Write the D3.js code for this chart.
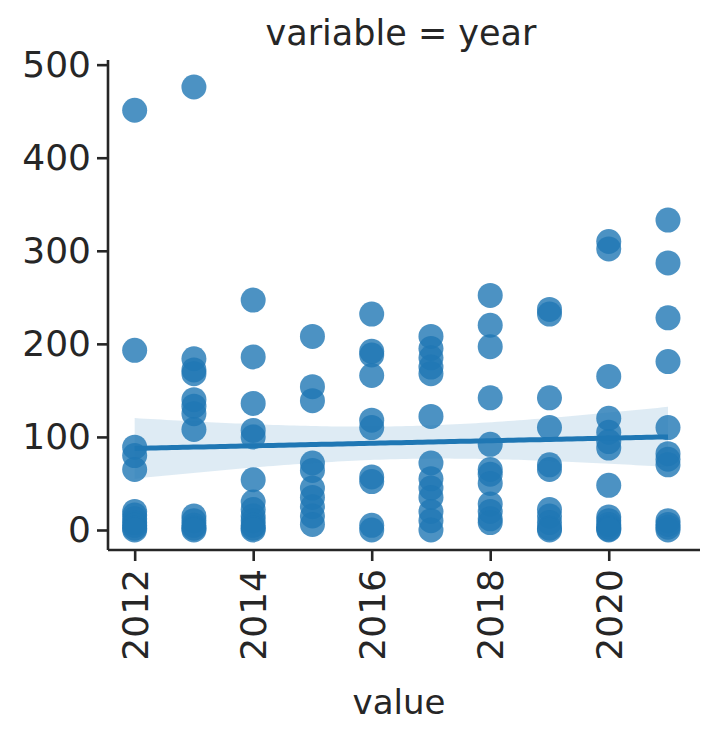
<!DOCTYPE html>
<html>
<head>
<script src="https://cdn.jsdelivr.net/npm/d3@7/dist/d3.min.js"></script>
<style>
  body { margin: 0; background: #fff; }
  text { font-family: "DejaVu Sans", sans-serif; fill: #262626; }
</style>
</head>
<body>
<div id="viz"></div>
<script>
// one column of points per year
var years = [2012, 2013, 2014, 2015, 2016, 2017, 2018, 2019, 2020, 2021];
var values = [
  [451, 193, 89, 80, 65, 20, 16, 12, 8, 5, 2, 0],
  [476, 184, 172, 168, 140, 133, 125, 108, 15, 10, 5, 2, 0],
  [247, 186, 136, 107, 100, 54, 30, 22, 15, 10, 5, 2, 0],
  [208, 154, 139, 72, 64, 45, 35, 25, 15, 6],
  [232, 192, 188, 166, 118, 110, 57, 52, 5, 0],
  [208, 195, 185, 175, 168, 122, 72, 55, 45, 35, 20, 10, 0],
  [252, 220, 197, 142, 92, 65, 60, 50, 28, 20, 12, 8],
  [237, 232, 142, 110, 70, 65, 22, 15, 8, 2, 0],
  [310, 302, 165, 120, 105, 95, 88, 48, 14, 10, 6, 3, 1, 0],
  [333, 287, 228, 181, 110, 82, 76, 70, 10, 6, 3, 0]
];
var yTicks = [0, 100, 200, 300, 400, 500];
var xTicks = [2012, 2014, 2016, 2018, 2020];

var W = 703, H = 729;
var blue = "#1f77b4";

var points = [];
years.forEach(function(yr, i) {
  values[i].forEach(function(v) { points.push({x: yr, y: v}); });
});

var x = d3.scaleLinear().domain([2011.55, 2021.54]).range([108, 700]);
var y = d3.scaleLinear().domain([-21.5, 505]).range([550, 60]);

var svg = d3.select("#viz").append("svg")
  .attr("width", W).attr("height", H);

// points
svg.append("g").selectAll("circle")
  .data(points)
  .enter().append("circle")
  .attr("cx", function(d) { return x(d.x); })
  .attr("cy", function(d) { return y(d.y); })
  .attr("r", 12.5)
  .attr("fill", blue)
  .attr("fill-opacity", 0.8);

// least squares fit + 95% band
var n = points.length;
var mx = d3.mean(points, function(d) { return d.x; });
var my = d3.mean(points, function(d) { return d.y; });
var sxx = d3.sum(points, function(d) { return (d.x - mx) * (d.x - mx); });
var sxy = d3.sum(points, function(d) { return (d.x - mx) * (d.y - my); });
var slope = sxy / sxx;
var icpt = my - slope * mx;
var sse = d3.sum(points, function(d) { var r = d.y - (icpt + slope * d.x); return r * r; });
var s = Math.sqrt(sse / (n - 2));
var tcrit = 1.984;

var grid = d3.range(0, 101).map(function(k) {
  var gx = 2012 + 9 * k / 100;
  var fit = icpt + slope * gx;
  var se = s * Math.sqrt(1 / n + (gx - mx) * (gx - mx) / sxx);
  return {x: gx, fit: fit, lo: fit - tcrit * se, hi: fit + tcrit * se};
});

svg.append("path")
  .datum(grid)
  .attr("d", d3.area()
    .x(function(d) { return x(d.x); })
    .y0(function(d) { return y(d.lo); })
    .y1(function(d) { return y(d.hi); }))
  .attr("fill", blue)
  .attr("fill-opacity", 0.15);

svg.append("path")
  .datum(grid)
  .attr("d", d3.line()
    .x(function(d) { return x(d.x); })
    .y(function(d) { return y(d.fit); }))
  .attr("fill", "none")
  .attr("stroke", blue)
  .attr("stroke-width", 5);

// axes
var yAxis = svg.append("g")
  .attr("transform", "translate(108,0)")
  .call(d3.axisLeft(y).tickValues(yTicks).tickSize(11).tickPadding(6));

var xAxis = svg.append("g")
  .attr("transform", "translate(0,550)")
  .call(d3.axisBottom(x).tickValues(xTicks).tickFormat(d3.format("d")).tickSize(11).tickPadding(7));

[yAxis, xAxis].forEach(function(g) {
  g.select(".domain").attr("stroke", "#262626").attr("stroke-width", 2.6);
  g.selectAll(".tick line").attr("stroke", "#262626").attr("stroke-width", 2.6);
  g.selectAll(".tick text").attr("font-size", 36).style("font-family", "DejaVu Sans").attr("fill", "#262626");
});

// spine ends are flat, as in matplotlib
yAxis.select(".domain").attr("d", "M0," + y.range()[0] + "V" + y.range()[1]);
xAxis.select(".domain").attr("d", "M" + x.range()[0] + ",0H" + x.range()[1]);

// rotated year labels
xAxis.selectAll(".tick text")
  .attr("transform", "rotate(-90)")
  .attr("text-anchor", "end")
  .attr("dy", "0.35em")
  .attr("x", -19)
  .attr("y", 0);

svg.append("text")
  .attr("x", 401).attr("y", 45)
  .attr("text-anchor", "middle")
  .attr("font-size", 35)
  .text("variable = year");

svg.append("text")
  .attr("x", 399).attr("y", 714)
  .attr("text-anchor", "middle")
  .attr("font-size", 34)
  .text("value");
</script>
</body>
</html>
